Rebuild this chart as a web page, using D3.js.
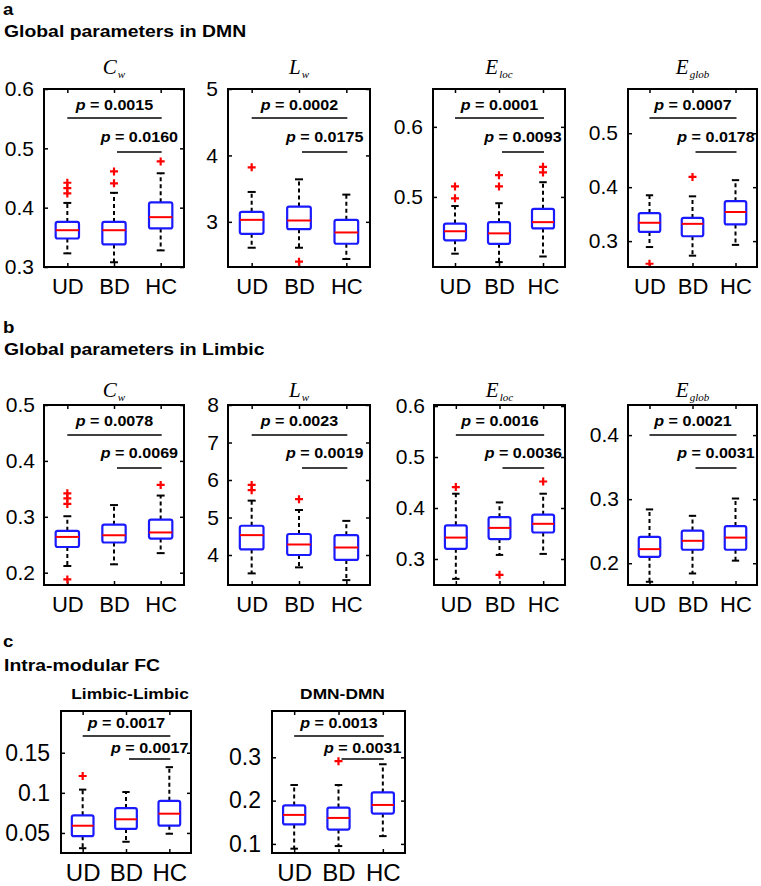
<!DOCTYPE html>
<html><head><meta charset="utf-8">
<script src="https://cdn.jsdelivr.net/npm/d3@7"></script>
<style>body{margin:0;background:#fff}svg{display:block}</style>
</head><body><svg id="chart" width="761" height="886"></svg>
<script>
const groups = ["UD", "BD", "HC"];

// Box statistics per group: [lower whisker, Q1, median, Q3, upper whisker]
const dmnCwStats   = [[0.323,0.348,0.362,0.376,0.408],[0.308,0.338,0.362,0.376,0.425],[0.328,0.365,0.384,0.409,0.458]];
const dmnCwOut     = [[0.424,0.433,0.442],[0.441,0.461],[0.478]];
const dmnLwStats   = [[2.61,2.82,3.03,3.15,3.45],[2.61,2.89,3.02,3.23,3.64],[2.44,2.67,2.84,3.03,3.41]];
const dmnLwOut     = [[3.82],[2.40],[]];
const dmnElocStats = [[0.419,0.438,0.451,0.462,0.487],[0.407,0.433,0.448,0.464,0.491],[0.415,0.455,0.464,0.483,0.521]];
const dmnElocOut   = [[0.498,0.515],[0.515,0.531],[0.535,0.543]];
const dmnEglobStats= [[0.289,0.317,0.334,0.352,0.385],[0.273,0.309,0.332,0.343,0.383],[0.293,0.331,0.354,0.374,0.413]];
const dmnEglobOut  = [[0.258],[0.419],[]];

const limCwStats   = [[0.212,0.246,0.264,0.275,0.301],[0.215,0.254,0.267,0.286,0.321],[0.235,0.261,0.272,0.295,0.338]];
const limCwOut     = [[0.188,0.323,0.333,0.342],[],[0.357]];
const limLwStats   = [[3.51,4.15,4.53,4.78,5.45],[3.67,4.00,4.28,4.56,5.20],[3.33,3.87,4.20,4.53,4.91]];
const limLwOut     = [[5.73,5.87],[5.49],[]];
const limElocStats = [[0.261,0.320,0.342,0.366,0.428],[0.308,0.339,0.361,0.382,0.411],[0.310,0.352,0.369,0.387,0.428]];
const limElocOut   = [[0.441],[0.269],[0.452]];
const limEglobStats= [[0.171,0.210,0.222,0.241,0.284],[0.184,0.221,0.235,0.251,0.274],[0.204,0.221,0.240,0.258,0.301]];
const limEglobOut  = [[],[],[]];

const fcLimbicStats= [[0.031,0.046,0.059,0.072,0.104],[0.039,0.055,0.067,0.081,0.101],[0.049,0.059,0.074,0.090,0.132]];
const fcLimbicOut  = [[0.121],[],[]];
const fcDmnStats   = [[0.089,0.145,0.167,0.189,0.236],[0.095,0.133,0.160,0.184,0.236],[0.118,0.170,0.190,0.219,0.284]];
const fcDmnOut     = [[],[0.291],[]];

// p-values: [UD vs HC, BD vs HC]
const dmnCwP = ["0.0015","0.0160"], dmnLwP = ["0.0002","0.0175"], dmnElocP = ["0.0001","0.0093"], dmnEglobP = ["0.0007","0.0178"];
const limCwP = ["0.0078","0.0069"], limLwP = ["0.0023","0.0019"], limElocP = ["0.0016","0.0036"], limEglobP = ["0.0021","0.0031"];
const fcLimbicP = ["0.0017","0.0017"], fcDmnP = ["0.0013","0.0031"];

// Axis ranges and ticks
const dmnCwDom=[0.3,0.6], dmnCwTicks=[0.3,0.4,0.5,0.6];
const dmnLwDom=[2.32,5], dmnLwTicks=[3,4,5];
const dmnElocDom=[0.4,0.654], dmnElocTicks=[0.5,0.6];
const dmnEglobDom=[0.252,0.582], dmnEglobTicks=[0.3,0.4,0.5];
const limCwDom=[0.178,0.5], limCwTicks=[0.2,0.3,0.4,0.5];
const limLwDom=[3.2,8], limLwTicks=[4,5,6,7,8];
const limElocDom=[0.249,0.602], limElocTicks=[0.3,0.4,0.5,0.6];
const limEglobDom=[0.166,0.447], limEglobTicks=[0.2,0.3,0.4];
const fcLimbicDom=[0.025,0.202], fcLimbicTicks=[0.05,0.1,0.15];
const fcDmnDom=[0.079,0.407], fcDmnTicks=[0.1,0.2,0.3];

const svg = d3.select("#chart");
svg.append("rect").attr("width",761).attr("height",886).attr("fill","#fff");

function txt(x, y, s, opt) {
  const t = svg.append("text")
    .attr("transform", `translate(${x},${y}) scale(${opt.sx||1},1)`)
    .attr("font-family", opt.family || "Liberation Sans, Arial, sans-serif")
    .attr("font-size", opt.size)
    .attr("font-weight", opt.weight || "normal")
    .attr("text-anchor", opt.anchor || "start")
    .attr("fill", "#000");
  if (opt.letter) t.attr("letter-spacing", opt.letter);
  if (typeof s === "string") t.text(s);
  return t;
}

// Section headings
txt(3, 15, "a", {size:17, weight:"bold", sx:1.1});
txt(4, 37, "Global parameters in DMN", {size:17, weight:"bold", sx:1.14});
txt(3, 333, "b", {size:17, weight:"bold", sx:1.1});
txt(4, 355, "Global parameters in Limbic", {size:17, weight:"bold", sx:1.14});
txt(3, 647, "c", {size:17, weight:"bold", sx:1.1});
txt(4, 671, "Intra-modular FC", {size:17, weight:"bold", sx:1.14});

const rowA = {top:89, bottom:267, titleY:74, tick:21, lab:22, t1:21, l1:29, t2:53, l2:63, pad:11};
const rowB = {top:405, bottom:585, titleY:397, tick:21, lab:22, t1:21, l1:30, t2:53, l2:63, pad:10};
const rowC = {top:711, bottom:853, titleY:699, tick:23, lab:24, t1:17, l1:25, t2:42, l2:48, pad:12};

const panels = [
  {row:rowA, x0:44,  x1:184, title:["C","w"],    stats:dmnCwStats,   out:dmnCwOut,   p:dmnCwP,   dom:dmnCwDom,   ticks:dmnCwTicks},
  {row:rowA, x0:228, x1:370, title:["L","w"],    stats:dmnLwStats,   out:dmnLwOut,   p:dmnLwP,   dom:dmnLwDom,   ticks:dmnLwTicks},
  {row:rowA, x0:433, x1:565, title:["E","loc"],  stats:dmnElocStats, out:dmnElocOut, p:dmnElocP, dom:dmnElocDom, ticks:dmnElocTicks},
  {row:rowA, x0:628, x1:757, title:["E","glob"], stats:dmnEglobStats,out:dmnEglobOut,p:dmnEglobP,dom:dmnEglobDom,ticks:dmnEglobTicks},
  {row:rowB, x0:44,  x1:184, title:["C","w"],    stats:limCwStats,   out:limCwOut,   p:limCwP,   dom:limCwDom,   ticks:limCwTicks},
  {row:rowB, x0:228, x1:370, title:["L","w"],    stats:limLwStats,   out:limLwOut,   p:limLwP,   dom:limLwDom,   ticks:limLwTicks},
  {row:rowB, x0:434, x1:565, title:["E","loc"],  stats:limElocStats, out:limElocOut, p:limElocP, dom:limElocDom, ticks:limElocTicks},
  {row:rowB, x0:628, x1:757, title:["E","glob"], stats:limEglobStats,out:limEglobOut,p:limEglobP,dom:limEglobDom,ticks:limEglobTicks},
  {row:rowC, x0:61,  x1:191, title:"Limbic-Limbic", stats:fcLimbicStats, out:fcLimbicOut, p:fcLimbicP, dom:fcLimbicDom, ticks:fcLimbicTicks},
  {row:rowC, x0:272, x1:405, title:"DMN-DMN",    stats:fcDmnStats,   out:fcDmnOut,   p:fcDmnP,   dom:fcDmnDom,   ticks:fcDmnTicks}
];

panels.forEach(P => {
  const R = P.row;
  const x = d3.scaleLinear().domain([0.5, 3.5]).range([P.x0, P.x1]);
  const y = d3.scaleLinear().domain(P.dom).range([R.bottom, R.top]);
  const g = svg.append("g");
  const cx = (P.x0 + P.x1) / 2;

  // title
  if (Array.isArray(P.title)) {
    const t = txt(cx, R.titleY, null, {size:21, family:"Liberation Serif, Times New Roman, serif", anchor:"middle"});
    t.attr("font-style","italic");
    t.append("tspan").text(P.title[0]);
    t.append("tspan").attr("font-size",11).attr("dy",4).attr("dx",1).text(P.title[1]);
  } else {
    txt(cx + 4, R.titleY, P.title, {size:15.5, weight:"bold", anchor:"middle", sx:1.12});
  }

  // axes (inward ticks)
  const ax = g.append("g").attr("transform",`translate(${P.x0},0)`)
    .call(d3.axisLeft(y).tickValues(P.ticks).tickSize(-4).tickPadding(R.pad - 1).tickFormat(d3.format("")));
  ax.select(".domain").remove();
  ax.selectAll("line").attr("stroke","#000").attr("stroke-width",1.5);
  ax.selectAll("text").attr("font-size",R.tick).attr("font-family","Liberation Sans, Arial, sans-serif").attr("fill","#000");
  const axr = g.append("g").attr("transform",`translate(${P.x1},0)`)
    .call(d3.axisRight(y).tickValues(P.ticks).tickSize(-4).tickFormat(""));
  axr.select(".domain").remove();
  axr.selectAll("line").attr("stroke","#000").attr("stroke-width",1.5);
  const axb = g.append("g").attr("transform",`translate(0,${R.bottom})`)
    .call(d3.axisBottom(x).tickValues([1,2,3]).tickSize(-4).tickPadding(11).tickFormat((d,i)=>groups[i]));
  axb.select(".domain").remove();
  axb.selectAll("line").attr("stroke","#000").attr("stroke-width",1.5);
  axb.selectAll("text").attr("font-size",R.lab).attr("font-family","Liberation Sans, Arial, sans-serif").attr("fill","#000");
  const axt = g.append("g").attr("transform",`translate(0,${R.top})`)
    .call(d3.axisTop(x).tickValues([1,2,3]).tickSize(-4).tickFormat(""));
  axt.select(".domain").remove();
  axt.selectAll("line").attr("stroke","#000").attr("stroke-width",1.5);

  // boxes
  const bw = x(1.25) - x(1);   // half box width
  const cw = x(1.085) - x(1);  // half cap width
  P.stats.forEach((s, i) => {
    const gx = x(i + 1);
    const [lo, q1, med, q3, hi] = s;
    g.append("line").attr("x1",gx).attr("x2",gx).attr("y1",y(q3)).attr("y2",y(hi))
      .attr("stroke","#000").attr("stroke-width",2).attr("stroke-dasharray","4,3");
    g.append("line").attr("x1",gx).attr("x2",gx).attr("y1",y(q1)).attr("y2",y(lo))
      .attr("stroke","#000").attr("stroke-width",2).attr("stroke-dasharray","4,3");
    [lo, hi].forEach(v => g.append("line").attr("x1",gx-cw).attr("x2",gx+cw).attr("y1",y(v)).attr("y2",y(v))
      .attr("stroke","#000").attr("stroke-width",2));
    g.append("rect").attr("x",gx-bw).attr("width",2*bw).attr("y",y(q3)).attr("height",y(q1)-y(q3))
      .attr("rx",2).attr("fill","none").attr("stroke","#1a1aff").attr("stroke-width",2.2);
    g.append("line").attr("x1",gx-bw).attr("x2",gx+bw).attr("y1",y(med)).attr("y2",y(med))
      .attr("stroke","#ff0000").attr("stroke-width",2);
    P.out[i].forEach(v => {
      const py = y(v), h = 4;
      g.append("path").attr("d",`M${gx-h},${py}H${gx+h}M${gx},${py-h}V${py+h}`)
        .attr("stroke","#ff0000").attr("stroke-width",2.2).attr("fill","none");
    });
  });

  // significance annotations
  const lines = [[x(1), x(3) + 1, R.l1, R.t1, P.p[0]], [x(2) + 3, x(3) + 1, R.l2, R.t2, P.p[1]]];
  lines.forEach(([a, b, ly, ty, pv]) => {
    g.append("line").attr("x1",a).attr("x2",b).attr("y1",R.top+ly).attr("y2",R.top+ly)
      .attr("stroke","#000").attr("stroke-width",1.6);
    const t = txt((a + b) / 2, R.top + ty, null, {size:14, weight:"bold", anchor:"middle", sx:1.15});
    t.append("tspan").attr("font-style","italic").text("p");
    t.append("tspan").text(" = " + pv);
  });

  // frame
  g.append("rect").attr("x",P.x0).attr("y",R.top).attr("width",P.x1-P.x0).attr("height",R.bottom-R.top)
    .attr("fill","none").attr("stroke","#000").attr("stroke-width",2);
});
</script></body></html>
